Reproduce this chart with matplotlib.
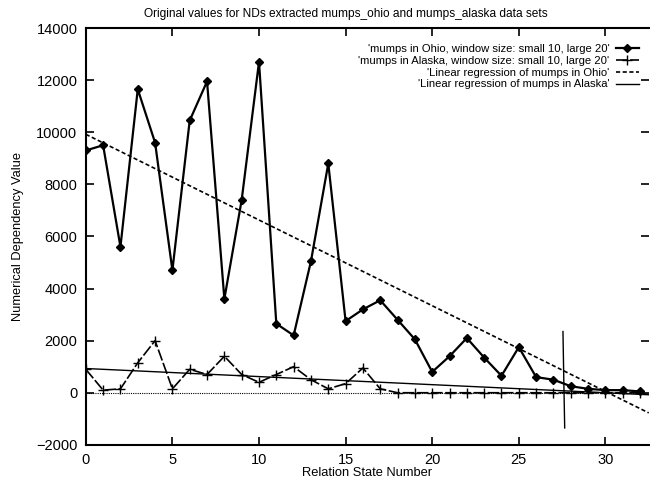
import matplotlib.pyplot as plt
import numpy as np

# NDs per relation state for the two data sets
states = np.arange(33)
ohio = [9300, 9500, 5600, 11650, 9600, 4700, 10450, 11950, 3600, 7400,
        12700, 2650, 2200, 5050, 8800, 2750, 3200, 3550, 2800, 2050,
        800, 1400, 2100, 1350, 650, 1750, 600, 500, 250, 150,
        100, 100, 50]
alaska = [900, 100, 150, 1150, 2000, 150, 900, 700, 1400, 700,
          400, 700, 1000, 500, 150, 350, 950, 150, 0, 0,
          0, 0, 0, 0, 0, 0, 0, 0, 0, 0,
          0, 0, 0]

# regression lines (intercept, slope)
ohio_fit = (9920, -329)
alaska_fit = (930, -31)

# cut marker drawn across the curves
cut_x = [27.55, 27.6, 27.65]
cut_y = [2350, 400, -1350]

plt.rcParams['font.family'] = ['Liberation Sans', 'DejaVu Sans']

fig = plt.figure(figsize=(6.5, 4.83), dpi=100)
ax = fig.add_axes([0.132, 0.079, 0.866, 0.863])

xs = np.array([0, 32.5])

ax.plot(states, ohio, color='black', lw=1.6, marker='D', ms=4.5,
        label="'mumps in Ohio, window size: small 10, large 20'")
ax.plot(states, alaska, color='black', lw=1.2, marker='+', ms=7, mew=1.0,
        dashes=(7, 1.5),
        label="'mumps in Alaska, window size: small 10, large 20'")
ax.plot(xs, ohio_fit[0] + ohio_fit[1] * xs, color='black', lw=1.2,
        dashes=(2.5, 1.5), label="'Linear regression of mumps in Ohio'")
ax.plot(xs, alaska_fit[0] + alaska_fit[1] * xs, color='black', lw=1.0,
        label="'Linear regression of mumps in Alaska'")
ax.axhline(0, color='black', lw=0.8, ls=(0, (1, 1)))
ax.plot(cut_x, cut_y, color='black', lw=1.0)

ax.set_xlim(0, 32.5)
ax.set_ylim(-2000, 14000)
ax.set_xticks(np.arange(0, 31, 5))
ax.set_yticks(np.arange(-2000, 14001, 2000))
ax.tick_params(direction='in', length=6, width=1.2, top=True, right=True,
               labelsize=10.5, pad=6)
ax.tick_params(axis='y', pad=6)
for s in ax.spines.values():
    s.set_linewidth(1.5)
ax.spines['right'].set_visible(False)

ax.set_title('Original values for NDs extracted mumps_ohio and mumps_alaska data sets',
             fontsize=8.6, pad=8, x=0.462)
ax.set_xlabel('Relation State Number', fontsize=9.3, labelpad=0)
ax.set_ylabel('Numerical Dependency Value', fontsize=9.3, labelpad=9)

ax.legend(loc='upper right', frameon=False, markerfirst=False,
          fontsize=8.1, handlelength=2.0, handletextpad=0.6,
          labelspacing=0.15, bbox_to_anchor=(1.0, 0.985))

fig.savefig('out.png', dpi=100)
